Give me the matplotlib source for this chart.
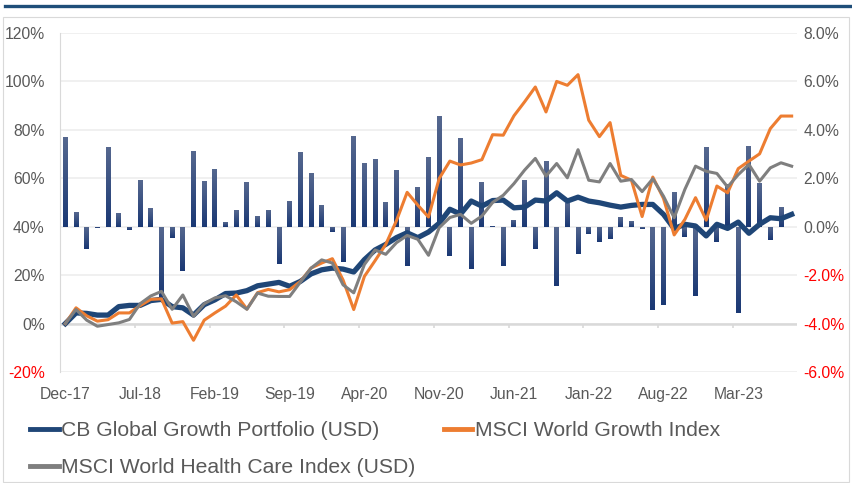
import numpy as np
import matplotlib.pyplot as plt
from matplotlib.lines import Line2D
from matplotlib.patches import Rectangle
from matplotlib.colors import LinearSegmentedColormap

plt.rcParams['font.family'] = ['Liberation Sans', 'DejaVu Sans']

# cumulative performance (%), monthly Dec-17 .. Aug-23
portfolio = [0, 4.4, 4.2, 3.5, 3.5, 7.0, 7.5, 7.5, 9.5, 10.0, 7.0, 6.5, 3.5, 7.8,
             9.8, 12.4, 12.6, 13.6, 15.6, 16.3, 17.0, 15.4, 17.4, 20.5, 22.2, 22.9, 22.5,
             21.3, 26.4, 30.4, 32.7, 35.5, 37.5, 35.5, 37.8, 41.4, 47.2, 45.2, 50.6, 48.5, 50.8,
             51.0, 47.8, 48.1, 51.0, 50.6, 54.0, 50.6, 52.2, 50.6, 49.9, 48.9, 48.1, 48.8, 49.2,
             49.2, 45.1, 39.2, 41.0, 40.3, 36.2, 41.0, 39.3, 41.9, 37.3, 41.0, 43.7, 43.3, 45.1]
growth = [0, 6.5, 3.2, 1.0, 1.6, 4.4, 4.4, 7.4, 10.0, 10.2, 0.2, 0.8, -6.9, 1.4,
          4.4, 7.2, 11.8, 6.0, 12.8, 14.1, 13.1, 14.0, 17.4, 22.9, 25.0, 26.8, 18.0,
          5.8, 19.5, 26.0, 32.7, 42.5, 54.2, 48.9, 44.0, 59.9, 67.1, 65.5, 66.3, 67.7, 78.0,
          77.8, 85.8, 91.6, 97.7, 87.4, 100.0, 98.4, 102.8, 84.0, 77.2, 83.0, 61.2, 59.2, 44.2,
          60.5, 51.7, 36.6, 43.0, 52.0, 42.7, 56.8, 54.0, 64.0, 67.1, 70.1, 80.5, 85.7, 85.7]
health = [0, 5.8, 1.4, -1.1, -0.4, 0.3, 1.7, 8.2, 11.4, 13.3, 5.9, 11.8, 3.0, 8.2,
          10.6, 11.5, 9.0, 5.9, 12.6, 11.3, 11.2, 11.2, 17.1, 22.9, 26.3, 25.0, 16.0,
          12.7, 24.4, 30.4, 28.6, 33.4, 36.4, 34.8, 28.2, 39.6, 43.8, 45.1, 41.4, 44.4, 50.0,
          53.0, 57.8, 63.4, 68.2, 60.9, 66.1, 60.2, 71.8, 59.2, 58.5, 66.1, 58.8, 59.5, 54.5,
          59.8, 52.6, 43.7, 55.4, 65.0, 62.9, 62.0, 56.4, 61.5, 65.7, 58.8, 64.3, 66.4, 65.0]
# monthly portfolio returns (%), right axis
monthly = [3.71, 0.59, -0.93, -0.05, 3.31, 0.55, -0.14, 1.91, 0.78, -2.90, -0.48, -1.83, 3.14, 1.87,
           2.40, 0.18, 0.67, 1.83, 0.43, 0.71, -1.54, 1.08, 3.10, 2.20, 0.88, -0.22, -1.46,
           3.76, 2.65, 2.81, 1.00, 2.36, -1.62, 1.66, 2.86, 4.58, -1.21, 3.68, -1.73, 1.83, 0.05,
           -1.62, 0.29, 1.94, -0.91, 2.72, -2.44, 0.97, -1.13, -0.30, -0.62, -0.51, 0.41, 0.22, -0.08,
           -3.43, -3.23, 1.44, -0.41, -2.88, 3.29, -0.62, 1.77, -3.56, 3.34, 1.81, -0.55, 0.82, np.nan]
tick_labels = ['Dec-17', 'Jul-18', 'Feb-19', 'Sep-19', 'Apr-20', 'Nov-20',
               'Jun-21', 'Jan-22', 'Aug-22', 'Mar-23']
series_names = ['CB Global Growth Portfolio (USD)', 'MSCI World Growth Index',
                'MSCI World Health Care Index (USD)']

n = len(portfolio)
x = np.arange(n)
gray_txt = '#595959'
tick_fs = 11.3

fig = plt.figure(figsize=(8.52, 4.83), dpi=100)
ax = fig.add_axes([60/852, 1 - 372/483, 737/852, 339/483])
ax2 = ax.twinx()
ax.set_zorder(ax2.get_zorder() + 1)
ax.patch.set_visible(False)

# bars with vertical gradient on the right axis
cmap = LinearSegmentedColormap.from_list('bar', ['#1A3874', '#56688F'])
grad = np.linspace(0, 1, 100).reshape(-1, 1)
bars = ax2.bar(x, monthly, width=0.46, color='none', edgecolor='none')
for b in bars:
    h = b.get_height()
    if np.isnan(h) or h == 0:
        continue
    x0 = b.get_x()
    y0, y1 = min(0, h), max(0, h)
    im = ax2.imshow(grad, cmap=cmap, origin='lower', aspect='auto',
                    extent=[x0, x0 + b.get_width(), y0, y1], zorder=2)
    im.set_clip_path(b)

ax2.set_ylim(-6, 8)
ax2.set_yticks(np.arange(-6, 8.1, 2))
ax2.set_yticklabels([f'{v:.1f}%' for v in np.arange(-6, 8.1, 2)])
ax2.grid(axis='y', color='#EFEFEF', linewidth=1.3)
ax2.set_axisbelow(True)
ax2.tick_params(axis='y', length=0, pad=4.5, labelsize=tick_fs, colors=gray_txt)
for lab, v in zip(ax2.get_yticklabels(), np.arange(-6, 8.1, 2)):
    if v < 0:
        lab.set_color('red')

# lines on the left axis
ax.plot(x, portfolio, color='#1F4677', lw=3.8, solid_joinstyle='round', zorder=3)
ax.plot(x, growth, color='#ED7D31', lw=2.2, zorder=4)
ax.plot(x, health, color='#7F7F7F', lw=2.2, zorder=5)

ax.set_xlim(-0.5, n - 0.5)
ax2.set_xlim(-0.5, n - 0.5)
ax.set_ylim(-20, 120)
ax.set_yticks(np.arange(-20, 121, 20))
ax.set_yticklabels([f'{v}%' for v in range(-20, 121, 20)])
ax.tick_params(axis='y', length=0, pad=11, labelsize=tick_fs, colors=gray_txt)
ax.get_yticklabels()[0].set_color('red')

ax.set_xticks(np.arange(0, n, 7))
ax.set_xticklabels(tick_labels)
ax.tick_params(axis='x', length=0, pad=10.5, labelsize=tick_fs, colors=gray_txt)

# category axis line at 0% with tick marks between categories
ax.axhline(0, color='#D9D9D9', lw=1.8, zorder=1)
ax.vlines(np.arange(6.5, n, 7), -1.8, 0, color='#D9D9D9', lw=1.2, zorder=1)

for a in (ax, ax2):
    for s in a.spines.values():
        s.set_visible(False)
ax.spines['left'].set_visible(True)
ax.spines['left'].set_color('#D9D9D9')

# legend
handles = [Line2D([], [], color='#1F4677', lw=3.5),
           Line2D([], [], color='#7F7F7F', lw=3.5),
           Line2D([], [], color='#ED7D31', lw=3.5)]
fig.legend(handles, [series_names[0], series_names[2], series_names[1]],
           ncol=2, loc='upper left', bbox_to_anchor=(30/852, 1 - 421/483),
           frameon=False, fontsize=15.2, handlelength=1.36, handletextpad=0.1,
           borderpad=0, borderaxespad=0, labelspacing=0.85, columnspacing=1.36,
           labelcolor=gray_txt)

# outer frame and top rule
fig.add_artist(Rectangle((3/852, 0.002), 846/852, 1 - 16.5/483 - 0.002,
                         transform=fig.transFigure, fill=False,
                         edgecolor='#D9D9D9', lw=0.8))
fig.add_artist(Line2D([5/852, 1], [1 - 5.5/483] * 2, color='#1F4E79', lw=2.4,
                      transform=fig.transFigure))

fig.savefig('out.png', dpi=100)
